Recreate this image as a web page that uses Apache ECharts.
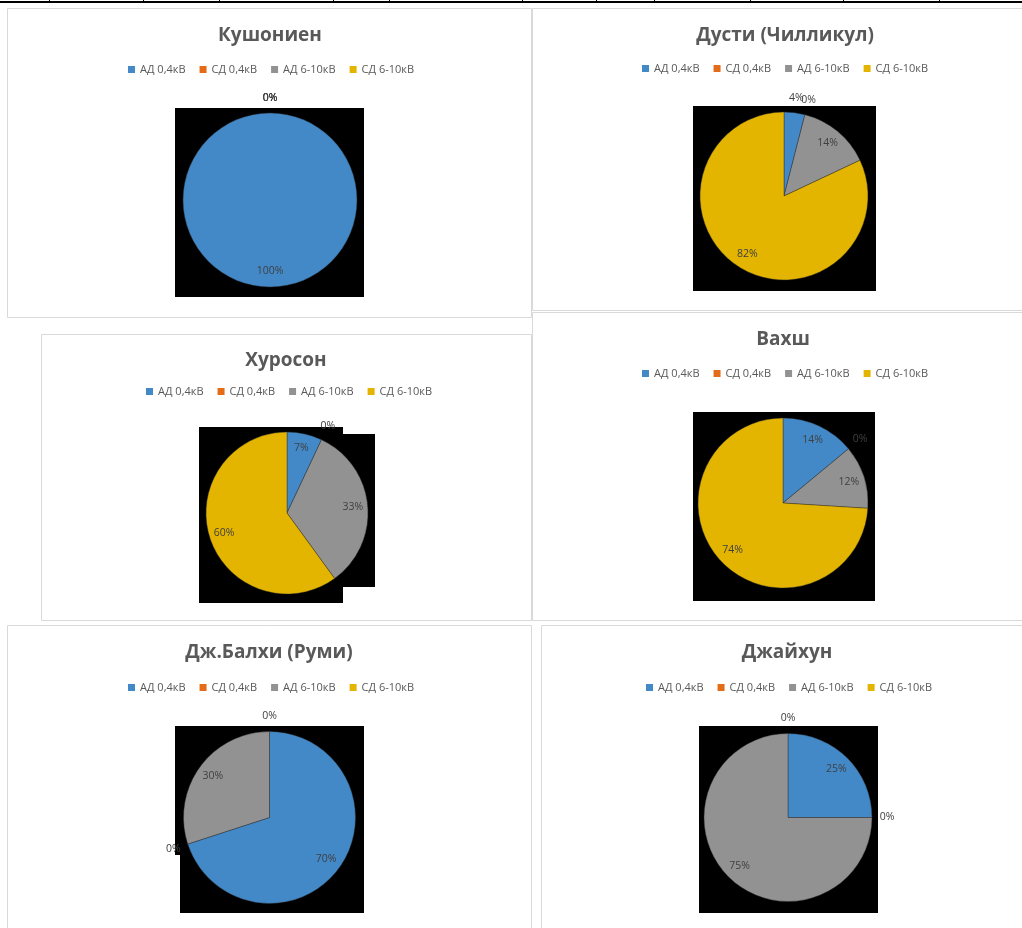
<!DOCTYPE html>
<html>
<head>
<meta charset="utf-8">
<title>Структура электропривода по насосным станциям</title>
<script src="https://cdn.jsdelivr.net/npm/echarts@6/dist/echarts.min.js"></script>
<style>
  html, body { margin: 0; padding: 0; background: #ffffff; }
  #chart { width: 1022px; height: 928px; }
</style>
</head>
<body>
<div id="chart"></div>
<script>
// Motor groups shown in every pie
const categories = ['АД 0,4кВ', 'СД 0,4кВ', 'АД 6-10кВ', 'СД 6-10кВ'];

// Pumping stations
const stationNames = ['Кушониен', 'Дусти (Чилликул)', 'Хуросон', 'Вахш', 'Дж.Балхи (Руми)', 'Джайхун'];

// Share of each motor group, %
const kushonienShares = [100, 0, 0, 0];
const dustiShares     = [4, 0, 14, 82];
const khurosonShares  = [7, 0, 33, 60];
const vakhshShares    = [14, 0, 12, 74];
const balkhiShares    = [70, 0, 30, 0];
const jayhunShares    = [25, 0, 75, 0];

const sliceColors = ['#4389c8', '#e46c19', '#929292', '#e3b400'];

const FONT = '"Open Sans", "Noto Sans", sans-serif';
const TITLE_SIZE = 19;
const LEGEND_SIZE = 11;
const LEGEND_MARK = 7;
const LEGEND_GAP = 14;
const LABEL_SIZE = 10.5;

// Panel geometry: frame, pie placement, title and legend anchors, dark plot backdrops
const panels = [
  { name: stationNames[0], shares: kushonienShares, cx: 270, cy: 200, r: 87,
    titleX: 270, titleY: 34, legendX: 271, legendY: 70,
    frame: [7, 8, 524, 309], backdrops: [[175, 108, 189, 189]] },
  { name: stationNames[1], shares: dustiShares, cx: 784, cy: 196, r: 84,
    titleX: 785, titleY: 34, legendX: 785, legendY: 69,
    frame: [532, 8, 500, 302], backdrops: [[693, 106, 183, 185]] },
  { name: stationNames[2], shares: khurosonShares, cx: 287, cy: 513, r: 81,
    titleX: 286, titleY: 359, legendX: 289, legendY: 392,
    frame: [41, 334, 490, 286], backdrops: [[199, 427, 144, 176], [343, 434, 32, 153]] },
  { name: stationNames[3], shares: vakhshShares, cx: 783, cy: 503, r: 85,
    titleX: 783, titleY: 338, legendX: 785, legendY: 374,
    frame: [532, 312, 500, 308], backdrops: [[693, 412, 182, 189]] },
  { name: stationNames[4], shares: balkhiShares, cx: 269.5, cy: 817.5, r: 86,
    titleX: 269, titleY: 651, legendX: 271, legendY: 688,
    frame: [7, 625, 524, 320], backdrops: [[175, 726, 189, 129], [180, 726, 184, 187]] },
  { name: stationNames[5], shares: jayhunShares, cx: 788, cy: 817.5, r: 84,
    titleX: 787, titleY: 651, legendX: 789, legendY: 688,
    frame: [541, 625, 500, 320], backdrops: [[699, 726, 179, 187]] }
];

// Table rule along the top edge of the sheet
const sheetColumnEdges = [49, 143, 219, 333, 389, 522, 596, 654, 750, 843, 939];

const measureCtx = document.createElement('canvas').getContext('2d');
measureCtx.font = LEGEND_SIZE + 'px ' + FONT;
const legendWidth = categories.reduce(
  (sum, c) => sum + LEGEND_MARK + 5 + measureCtx.measureText(c).width, 0
) + LEGEND_GAP * (categories.length - 1);

const graphics = [];
graphics.push({
  type: 'rect', shape: { x: 0, y: 1, width: 1022, height: 2 },
  style: { fill: '#000000' }, silent: true
});
sheetColumnEdges.forEach(x => graphics.push({
  type: 'line', shape: { x1: x + 0.5, y1: 0, x2: x + 0.5, y2: 3 },
  style: { stroke: '#000000', lineWidth: 1 }, silent: true
}));
panels.forEach(p => {
  graphics.push({
    type: 'rect',
    shape: { x: p.frame[0] + 0.5, y: p.frame[1] + 0.5, width: p.frame[2], height: p.frame[3] },
    style: { fill: '#ffffff', stroke: '#d9d9d9', lineWidth: 1 }, silent: true, z: -2
  });
  p.backdrops.forEach(b => graphics.push({
    type: 'rect', shape: { x: b[0], y: b[1], width: b[2], height: b[3] },
    style: { fill: '#000000' }, silent: true, z: -1
  }));
});

const labelStyle = {
  position: 'inside', color: '#404040', fontSize: LABEL_SIZE, fontFamily: FONT,
  formatter: p => p.value + '%'
};

const sliceSeries = [];
const labelSeries = [];
panels.forEach(p => {
  sliceSeries.push({
    type: 'pie', name: p.name, center: [p.cx, p.cy], radius: p.r,
    startAngle: 90, clockwise: true, avoidLabelOverlap: false, silent: true,
    label: { show: false }, labelLine: { show: false },
    emphasis: { disabled: true },
    data: categories.map((c, i) => ({
      name: c, value: p.shares[i],
      itemStyle: {
        color: sliceColors[i],
        borderColor: 'rgba(45,45,45,0.7)',
        borderWidth: p.shares[i] > 0 ? 0.6 : 0
      }
    }))
  });
  // Larger shares are labelled inside the slice, small ones just outside the rim
  labelSeries.push({
    type: 'pie', center: [p.cx, p.cy], radius: [p.r * 0.56, p.r],
    startAngle: 90, clockwise: true, avoidLabelOverlap: false, silent: true,
    label: labelStyle, labelLine: { show: false }, emphasis: { disabled: true },
    labelLayout: { hideOverlap: false },
    itemStyle: { color: 'rgba(0,0,0,0)' },
    data: categories.map((c, i) => ({ name: c, value: p.shares[i], label: { show: p.shares[i] >= 5 } }))
  });
  labelSeries.push({
    type: 'pie', center: [p.cx, p.cy], radius: [p.r, p.r + 24],
    startAngle: 90, clockwise: true, avoidLabelOverlap: false, silent: true,
    label: labelStyle, labelLine: { show: false }, emphasis: { disabled: true },
    labelLayout: { hideOverlap: false },
    itemStyle: { color: 'rgba(0,0,0,0)' },
    data: categories.map((c, i) => ({ name: c, value: p.shares[i], label: { show: p.shares[i] < 5 } }))
  });
});

const chart = echarts.init(document.getElementById('chart'), null, { renderer: 'canvas' });
chart.setOption({
  animation: false,
  backgroundColor: '#ffffff',
  color: sliceColors,
  title: panels.map(p => ({
    text: p.name, left: p.titleX, top: p.titleY - TITLE_SIZE / 2 + 2, textAlign: 'center', padding: 0,
    textStyle: { fontSize: TITLE_SIZE, fontWeight: 'bold', color: '#595959', fontFamily: FONT }
  })),
  legend: panels.map(p => ({
    left: Math.round(p.legendX - legendWidth / 2), top: p.legendY - 6, padding: 0,
    orient: 'horizontal', icon: 'rect', itemWidth: LEGEND_MARK, itemHeight: LEGEND_MARK,
    itemGap: LEGEND_GAP, selectedMode: false,
    itemStyle: { borderWidth: 0 },
    textStyle: { fontSize: LEGEND_SIZE, color: '#595959', fontFamily: FONT },
    data: categories.map((c, i) => ({ name: c, itemStyle: { color: sliceColors[i], borderWidth: 0 } }))
  })),
  graphic: { elements: graphics },
  series: sliceSeries.concat(labelSeries)
});
</script>
</body>
</html>
